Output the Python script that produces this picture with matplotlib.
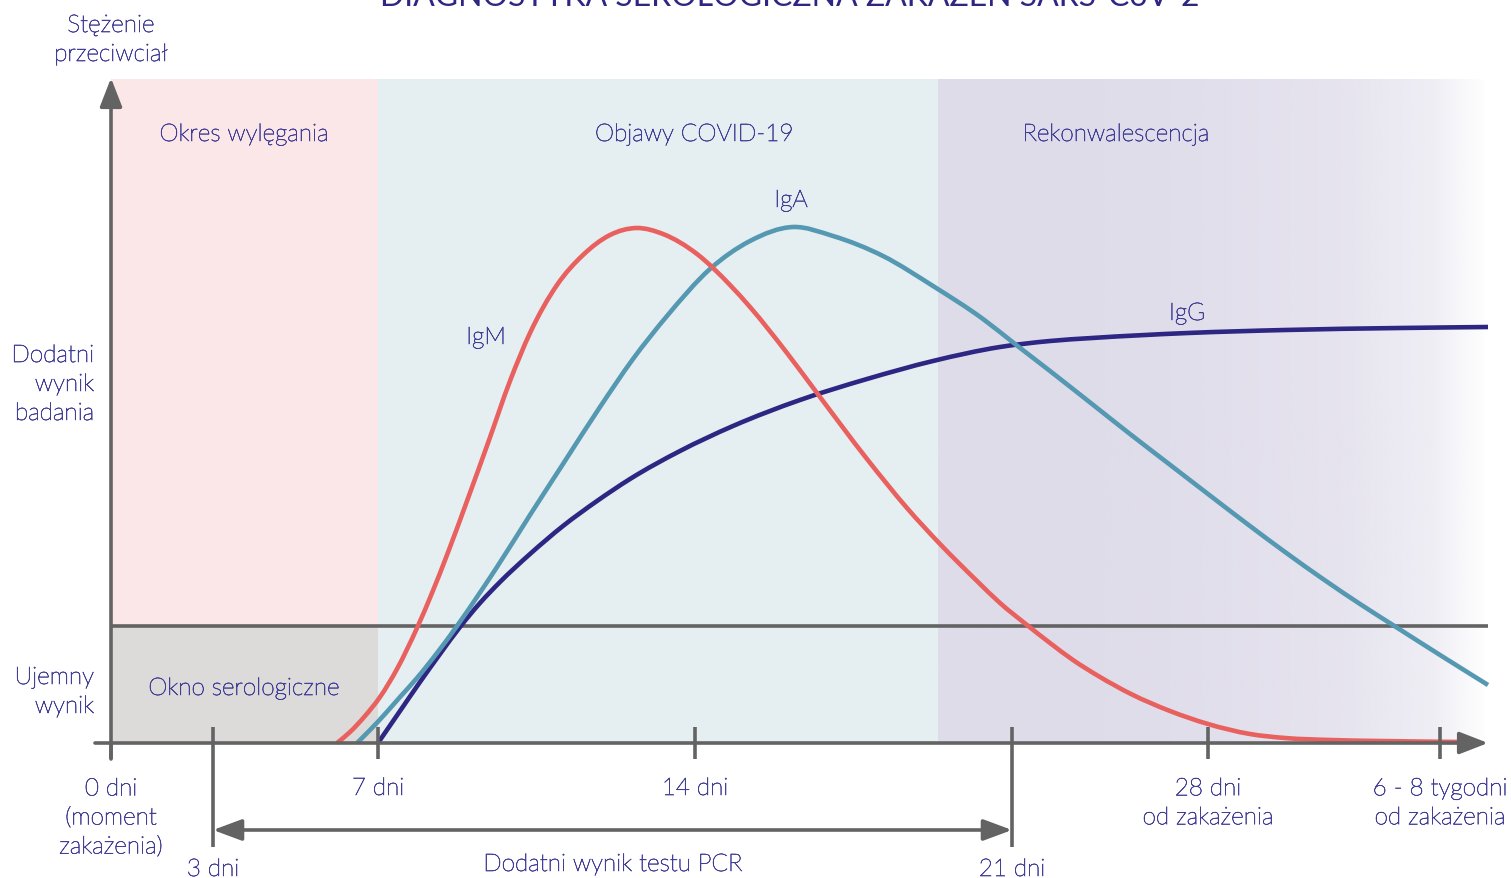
import numpy as np
import matplotlib.pyplot as plt
import matplotlib.patheffects as pe
from matplotlib.colors import to_rgb
from matplotlib.path import Path
from matplotlib.patches import PathPatch

plt.rcParams['font.family'] = ['Lato', 'DejaVu Sans']

# schematic time position (x) and antibody concentration (y, arbitrary units)
igm_x = [226, 239, 254, 269, 286, 306, 321, 336, 356, 377, 399, 419, 446, 472, 499, 526, 552, 586,
         619, 639, 676, 706, 756, 796, 829, 866, 889, 916, 939, 962, 989, 1020, 1059, 1097, 1139,
         1174, 1219, 1269, 1351]
igm_y = [0, 11, 27, 46, 74, 115, 150, 188, 242, 300, 362, 410, 458, 488, 508, 515, 509, 489,
         458, 436, 390, 350, 284, 235, 199, 162, 140, 118, 100, 83, 66, 49, 32, 19, 9,
         5, 3, 2, 1]
iga_x = [246, 259, 274, 289, 306, 326, 346, 366, 386, 419, 452, 489, 522, 556, 599, 639, 682, 722,
         772, 822, 872, 904, 939, 981, 1019, 1058, 1097, 1135, 1174, 1212, 1249, 1285, 1329, 1377]
iga_y = [0, 13, 29, 46, 65, 90, 117, 146, 176, 228, 279, 336, 384, 427, 474, 502, 516, 507,
         487, 457, 424, 399, 372, 339, 309, 279, 249, 220, 191, 164, 139, 116, 88, 58]
igg_x = [267, 289, 309, 329, 349, 369, 389, 419, 452, 486, 519, 569, 622, 689, 756, 822, 889, 939,
         981, 1077, 1174, 1289, 1377]
igg_y = [0, 32, 61, 89, 116, 140, 161, 189, 217, 242, 264, 292, 317, 343, 364, 382, 396, 402,
         405, 410, 413, 415, 416]

threshold = 117
y_top = 664
x_end = 1377
tick_pos = [0, 267, 584, 1097, 1329]
tick_labels = ['0 dni\n(moment\nzakażenia)', '7 dni', '14 dni', '28 dni\nod zakażenia',
               '6 - 8 tygodni\nod zakażenia']
pcr_start, pcr_end = 102, 901
phase_edges = [0, 267, 827, 1377]
phase_names = ['Okres wylęgania', 'Objawy COVID-19', 'Rekonwalescencja']
phase_label_x = [133, 583, 1005]

TXT = '#423f96'
AX = '#636363'
RED = '#e8615e'
TEAL = '#5598b1'
NAVY = '#2d2683'
FS = 17.5
LS = 1.47
DY = -2.5
txt_kw = dict(fontsize=FS, color=TXT, fontweight='light',
              path_effects=[pe.withStroke(linewidth=0.45, foreground=TXT)])


def smooth_curve(xs, ys, color, z):
    # cubic bezier segments through the read points, slopes from neighbouring points
    x = np.asarray(xs, float)
    y = np.asarray(ys, float)
    m = np.gradient(y, x)
    verts = [(x[0], y[0])]
    codes = [Path.MOVETO]
    for i in range(len(x) - 1):
        h = (x[i + 1] - x[i]) / 3
        verts += [(x[i] + h, y[i] + h * m[i]), (x[i + 1] - h, y[i + 1] - h * m[i + 1]),
                  (x[i + 1], y[i + 1])]
        codes += [Path.CURVE4] * 3
    ax.add_patch(PathPatch(Path(verts, codes), fill=False, edgecolor=color, lw=3.3,
                           zorder=z, capstyle='butt'))


fig = plt.figure(figsize=(15.11, 8.79), dpi=100)
ax = fig.add_axes([0, 0, 1, 1])
ax.axis('off')

# background phases
ax.fill_between([phase_edges[0], phase_edges[1]], threshold, y_top, color='#fbe6e8', lw=0, zorder=0)
ax.fill_between([phase_edges[0], phase_edges[1]], 0, threshold, color='#dcdbda', lw=0, zorder=0)
ax.fill_between([phase_edges[1], phase_edges[2]], 0, y_top, color='#e5eef1', lw=0, zorder=0)
grad_x = np.linspace(phase_edges[2], phase_edges[3], 300)
alpha = np.interp(grad_x, [827, 1039, 1232, 1322, 1377], [1, 0.97, 0.78, 0.5, 0])
img = np.zeros((1, len(grad_x), 4))
img[..., :3] = to_rgb('#dfdcea')
img[0, :, 3] = alpha
ax.imshow(img, extent=[phase_edges[2], phase_edges[3], 0, y_top], aspect='auto', zorder=0)
ax.set_xlim(-111, 1400)
ax.set_ylim(-135, 744)

for name, lx in zip(phase_names, phase_label_x):
    ax.text(lx, 611 + DY, name, ha='center', va='center', **txt_kw)
ax.text(133, 57 + DY, 'Okno serologiczne', ha='center', va='center', **txt_kw)

# threshold line
ax.plot([0, x_end], [threshold, threshold], color=AX, lw=2.6, zorder=2, solid_capstyle='butt')

# curves
smooth_curve(igg_x, igg_y, NAVY, 3)
smooth_curve(iga_x, iga_y, TEAL, 4)
smooth_curve(igm_x, igm_y, RED, 5)
ax.text(375, 408 + DY, 'IgM', ha='center', va='center', **txt_kw)
ax.text(680, 545 + DY, 'IgA', ha='center', va='center', **txt_kw)
ax.text(1076, 432 + DY, 'IgG', ha='center', va='center', **txt_kw)

# axes with arrows
arrow = dict(arrowstyle='-|>,head_length=1.75,head_width=0.68', color=AX, lw=2.6,
             shrinkA=0, shrinkB=0, mutation_scale=10)
ax.annotate('', xy=(0, 665), xytext=(0, -16), arrowprops=arrow, zorder=6)
ax.annotate('', xy=(x_end, 0), xytext=(-16, 0), arrowprops=arrow, zorder=6)

for p, lab in zip(tick_pos, tick_labels):
    ax.plot([p, p], [-16, 0 if p == 0 else 16], color=AX, lw=2.6, zorder=6, solid_capstyle='butt')
    n = lab.count('\n')
    ax.text(p, -43 - 14.75 * n + DY, lab, ha='center', va='center', linespacing=LS, **txt_kw)

# PCR window
for p, lab in [(pcr_start, '3 dni'), (pcr_end, '21 dni')]:
    ax.plot([p, p], [16, -104], color=AX, lw=2.6, zorder=6, solid_capstyle='butt')
    ax.text(p, -124 + DY, lab, ha='center', va='center', **txt_kw)
ax.annotate('', xy=(pcr_end, -87), xytext=(pcr_start, -87), zorder=6,
            arrowprops=dict(arrowstyle='<|-|>,head_length=1.75,head_width=0.65', color=AX,
                            lw=2.6, shrinkA=0, shrinkB=0, mutation_scale=10))
ax.text((pcr_start + pcr_end) / 2, -119 + DY, 'Dodatni wynik testu PCR', ha='center',
        va='center', **txt_kw)

# y axis labels
ax.text(0, 705.5 + DY, 'Stężenie\nprzeciwciał', ha='center', va='center', linespacing=LS,
        **txt_kw)
ax.text(-17, 361 + DY, 'Dodatni\nwynik\nbadania', ha='right', va='center', linespacing=LS,
        multialignment='right', **txt_kw)
ax.text(-17, 53.5 + DY, 'Ujemny\nwynik', ha='right', va='center', linespacing=LS,
        multialignment='right', **txt_kw)

# title, cut off at the top edge as in the source graphic
ax.text(679, 738, 'DIAGNOSTYKA SEROLOGICZNA ZAKAŻEŃ SARS-CoV-2', ha='center', va='baseline',
        fontsize=23, color=NAVY)

fig.savefig('out.png', dpi=100)
